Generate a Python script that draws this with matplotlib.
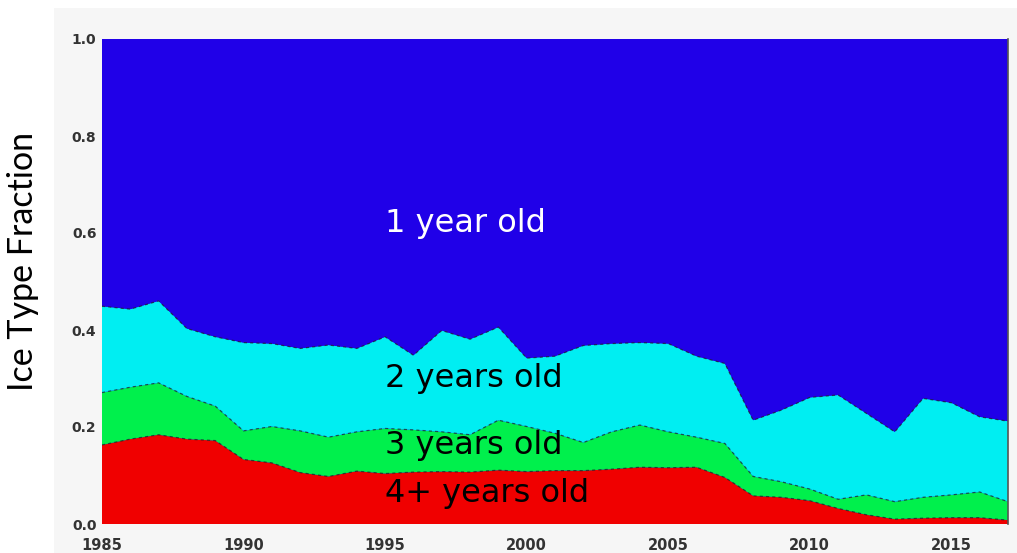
import numpy as np
import matplotlib
matplotlib.use("Agg")
import matplotlib.pyplot as plt
from matplotlib.patches import Rectangle

years = list(range(1985, 2018))

four_plus = [0.163, 0.175, 0.184, 0.175, 0.172, 0.133, 0.126, 0.106, 0.098, 0.109,
             0.104, 0.107, 0.108, 0.107, 0.111, 0.108, 0.110, 0.110, 0.113, 0.117,
             0.116, 0.117, 0.096, 0.058, 0.055, 0.048, 0.032, 0.019, 0.010, 0.012,
             0.013, 0.013, 0.008]
three_year = [0.108, 0.107, 0.107, 0.088, 0.071, 0.059, 0.075, 0.086, 0.081, 0.081,
              0.093, 0.087, 0.082, 0.077, 0.103, 0.093, 0.077, 0.058, 0.077, 0.087,
              0.074, 0.062, 0.070, 0.040, 0.032, 0.024, 0.019, 0.041, 0.036, 0.043,
              0.047, 0.053, 0.038]
two_year = [0.178, 0.161, 0.169, 0.140, 0.143, 0.182, 0.171, 0.170, 0.190, 0.172,
            0.189, 0.154, 0.209, 0.197, 0.192, 0.141, 0.159, 0.200, 0.182, 0.170,
            0.182, 0.167, 0.165, 0.116, 0.148, 0.189, 0.215, 0.168, 0.144, 0.204,
            0.190, 0.155, 0.166]
one_year = [0.551, 0.557, 0.540, 0.597, 0.614, 0.626, 0.628, 0.638, 0.631, 0.638,
            0.614, 0.652, 0.601, 0.619, 0.594, 0.658, 0.654, 0.632, 0.628, 0.626,
            0.628, 0.654, 0.669, 0.786, 0.765, 0.739, 0.734, 0.772, 0.810, 0.741,
            0.750, 0.779, 0.788]

labels = ["4+ years old", "3 years old", "2 years old", "1 year old"]
colors = ["#f00000", "#00f04c", "#00eef2", "#2000e8"]
label_colors = ["black", "black", "black", "white"]
label_y = [0.062, 0.161, 0.299, 0.62]

x_ticks = [1985, 1990, 1995, 2000, 2005, 2010, 2015]
x_ticklabels = ["1985", "1990", "1995", "2000", "2005", "2010", "2015"]
y_ticks = [0.0, 0.2, 0.4, 0.6, 0.8, 1.0]
y_ticklabels = ["0.0", "0.2", "0.4", "0.6", "0.8", "1.0"]

W, H = 1017, 553
fig = plt.figure(figsize=(W / 100, H / 100), dpi=100)
fig.patch.set_facecolor("white")

# light gray panel behind the plot
fig.patches.append(Rectangle((54 / W, 0), 1 - 54 / W, (H - 8) / H,
                             transform=fig.transFigure, facecolor="#f6f6f6",
                             edgecolor="none", zorder=-5))

ax = fig.add_axes([102 / W, (H - 524) / H, (1008 - 102) / W, (524 - 39) / H])
ax.set_zorder(2)
ax.set_facecolor(colors[3])

series = [four_plus, three_year, two_year, one_year]
ax.stackplot(years, *series, colors=colors, linewidth=0)

cum = np.cumsum(np.array(series[:3]), axis=0)
for row in cum:
    ax.plot(years, row, color="#202020", lw=0.9, ls=(0, (2.5, 2.5)), alpha=0.7)

for lab, col, yy in zip(labels, label_colors, label_y):
    ax.text(1995.0, yy, lab, color=col, fontsize=23, ha="left", va="center",
            family="DejaVu Sans")

ax.set_xlim(1985, 2017)
ax.set_ylim(0, 1)
ax.set_xticks(x_ticks)
ax.set_xticklabels(x_ticklabels)
ax.set_yticks(y_ticks)
ax.set_yticklabels(y_ticklabels)
ax.tick_params(axis="both", length=0, colors="#333333")
ax.tick_params(axis="x", pad=10, labelsize=10.5)
ax.tick_params(axis="y", pad=4, labelsize=10)
for lab in ax.get_xticklabels() + ax.get_yticklabels():
    lab.set_fontweight("bold")

for side in ["left", "bottom", "top"]:
    ax.spines[side].set_visible(False)
ax.spines["right"].set_color("#555555")
ax.spines["right"].set_linewidth(1.2)

fig.text(23.5 / W, (H - 261) / H, "Ice Type Fraction", rotation=90,
         ha="center", va="center", fontsize=24.5, family="Lato", color="black")

fig.savefig("out.png", dpi=100)
